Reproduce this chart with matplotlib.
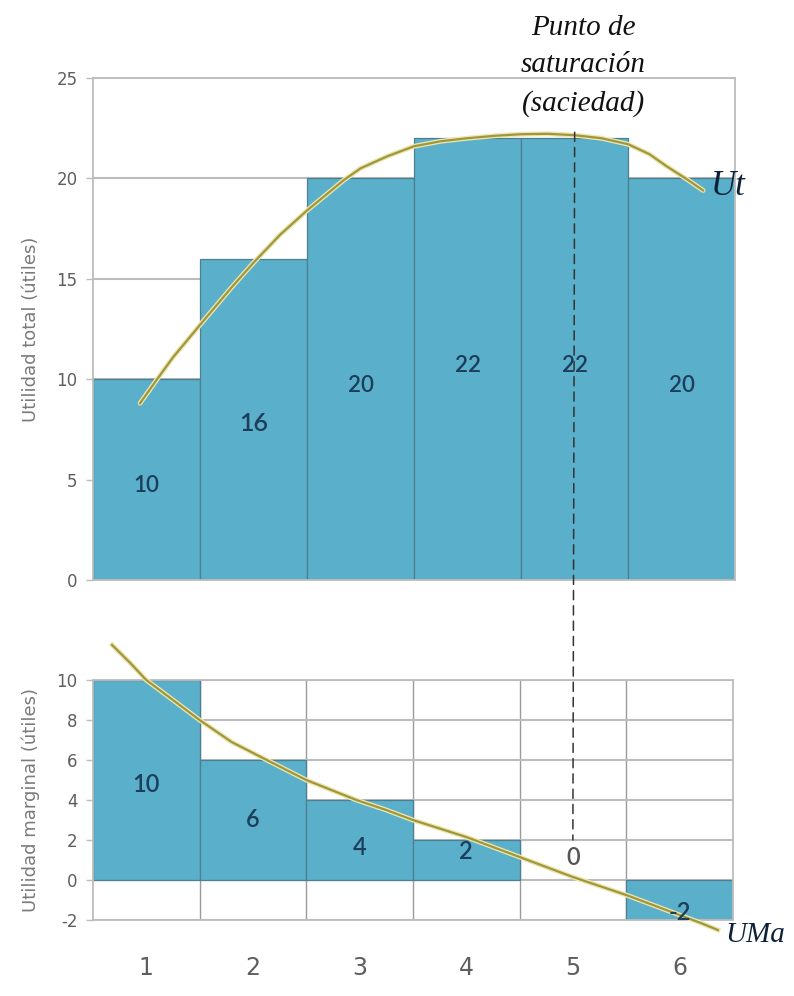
import numpy as np
import matplotlib
matplotlib.use('Agg')
import matplotlib.pyplot as plt
from matplotlib.patches import ConnectionPatch

plt.rcParams['axes.unicode_minus'] = False

unidades = [1, 2, 3, 4, 5, 6]
ut = [10, 16, 20, 22, 22, 20]
uma = [10, 6, 4, 2, 0, -2]

# curves
ut_x = [0.94, 1.1, 1.25, 1.5, 1.8, 2.0, 2.25, 2.5, 2.84, 3.0, 3.25, 3.5, 3.75, 4.0,
        4.25, 4.5, 4.75, 5.0, 5.25, 5.5, 5.7, 5.86, 6.05, 6.2]
ut_y = [8.8, 10.0, 11.1, 12.7, 14.6, 15.8, 17.2, 18.4, 19.9, 20.5, 21.1, 21.6, 21.85, 22.0,
        22.12, 22.2, 22.22, 22.15, 22.0, 21.7, 21.2, 20.6, 19.95, 19.4]
uma_x = [0.68, 0.85, 1.0, 1.25, 1.5, 1.8, 2.13, 2.5, 2.97, 3.25, 3.5, 4.0, 4.25, 4.5,
         4.75, 5.0, 5.25, 5.5, 5.75, 6.0, 6.2, 6.36]
uma_y = [11.75, 10.85, 10.0, 9.0, 8.0, 6.9, 6.0, 5.0, 4.0, 3.5, 3.0, 2.15, 1.65, 1.15,
         0.65, 0.15, -0.3, -0.75, -1.25, -1.75, -2.15, -2.5]

# label heights inside the bars
ut_lab_y = [4.7, 7.8, 9.7, 10.7, 10.7, 9.7]
uma_lab_y = [4.75, 3.0, 1.6, 1.4, 1.1, -1.6]

bar_c = '#5aafca'
edge_c = '#4d7f92'
grid_c = '#bcbcbc'
curve_c = '#9d9840'
halo_c = '#efe5ad'
txt_c = '#1d3e5a'
tick_c = '#5e5e5e'

fig = plt.figure(figsize=(7.94, 9.96), dpi=100)
ax1 = fig.add_axes([0.117, 0.4177, 0.809, 0.504])
ax2 = fig.add_axes([0.117, 0.0763, 0.806, 0.241])

# ---- top: utilidad total
ax1.bar(unidades, ut, width=1.0, color=bar_c, edgecolor=edge_c, linewidth=0.9, zorder=2)
ax1.set_xlim(0.5, 6.5)
ax1.set_ylim(0, 25)
ax1.set_yticks([0, 5, 10, 15, 20, 25])
ax1.yaxis.grid(True, color=grid_c, linewidth=1.5, zorder=0)
ax1.set_axisbelow(True)
ax1.set_xticks([])
ax1.tick_params(axis='y', colors=tick_c, labelsize=12, length=5, width=1, color=grid_c, pad=6)
for s in ax1.spines.values():
    s.set_color(grid_c)
    s.set_linewidth(1.3)
ax1.set_ylabel('Utilidad total (útiles)', color='#7a7a7a', fontsize=13, labelpad=12)
ax1.plot(ut_x, ut_y, color=halo_c, lw=3.5, zorder=3, solid_capstyle='round')
ax1.plot(ut_x, ut_y, color=curve_c, lw=1.6, zorder=4)
for x, v, yy in zip(unidades, ut, ut_lab_y):
    ax1.text(x, yy, str(v), ha='center', va='center', fontsize=16 if v != 16 else 18,
             color=txt_c, family='Lato', fontweight='semibold', zorder=5)

serif = dict(family='Liberation Serif', style='italic', color='#111111', clip_on=False)
ax1.text(5.08, 27.5, 'Punto de', ha='center', va='center', fontsize=21, **serif)
ax1.text(5.08, 25.65, 'saturación', ha='center', va='center', fontsize=21, **serif)
ax1.text(5.08, 23.75, '(saciedad)', ha='center', va='center', fontsize=21, **serif)
ax1.text(6.27, 19.6, 'Ut', ha='left', va='center', fontsize=25, color='#0d2238',
         family='Liberation Serif', style='italic', clip_on=False, zorder=6)

# ---- bottom: utilidad marginal
lw_bars = [0.9 if v != 0 else 0 for v in uma]
ax2.bar(unidades, uma, width=1.0, color=bar_c, edgecolor=edge_c, linewidth=lw_bars, zorder=2)
ax2.set_xlim(0.5, 6.5)
ax2.set_ylim(-2, 10)
ax2.set_yticks([-2, 0, 2, 4, 6, 8, 10])
ax2.set_xticks([1.5, 2.5, 3.5, 4.5, 5.5], minor=True)
ax2.set_xticks(unidades)
ax2.yaxis.grid(True, color=grid_c, linewidth=1.5, zorder=0)
ax2.xaxis.grid(True, which='minor', color='#9a9a9a', linewidth=1.0, zorder=2.5)
ax2.xaxis.grid(False, which='major')
ax2.set_axisbelow(True)
ax2.tick_params(axis='y', colors=tick_c, labelsize=12, length=5, width=1, color=grid_c, pad=6)
ax2.tick_params(axis='x', which='both', length=0, labelsize=17, colors=tick_c, pad=26)
for s in ax2.spines.values():
    s.set_color(grid_c)
    s.set_linewidth(1.3)
ax2.set_ylabel('Utilidad marginal (útiles)', color='#7a7a7a', fontsize=13, labelpad=12)
ax2.plot(uma_x, uma_y, color=halo_c, lw=3.5, zorder=3, clip_on=False)
ax2.plot(uma_x, uma_y, color=curve_c, lw=1.6, zorder=4, clip_on=False)
for x, v, yy in zip(unidades, uma, uma_lab_y):
    ax2.text(x, yy, str(v), ha='center', va='center', fontsize=17,
             color=txt_c if v != 0 else '#555555', family='Lato', fontweight='semibold', zorder=5)
ax2.text(6.43, -2.75, 'UMa', ha='left', va='center', fontsize=21, color='#0d2238',
         family='Liberation Serif', style='italic', clip_on=False, zorder=6)

# saturation line across both panels
con = ConnectionPatch(xyA=(5, 22.3), coordsA=ax1.transData, xyB=(5, 2), coordsB=ax2.transData,
                      linestyle=(0, (6, 4)), color='#333333', lw=1.1, zorder=7)
fig.add_artist(con)

fig.savefig('out.png', dpi=100)
